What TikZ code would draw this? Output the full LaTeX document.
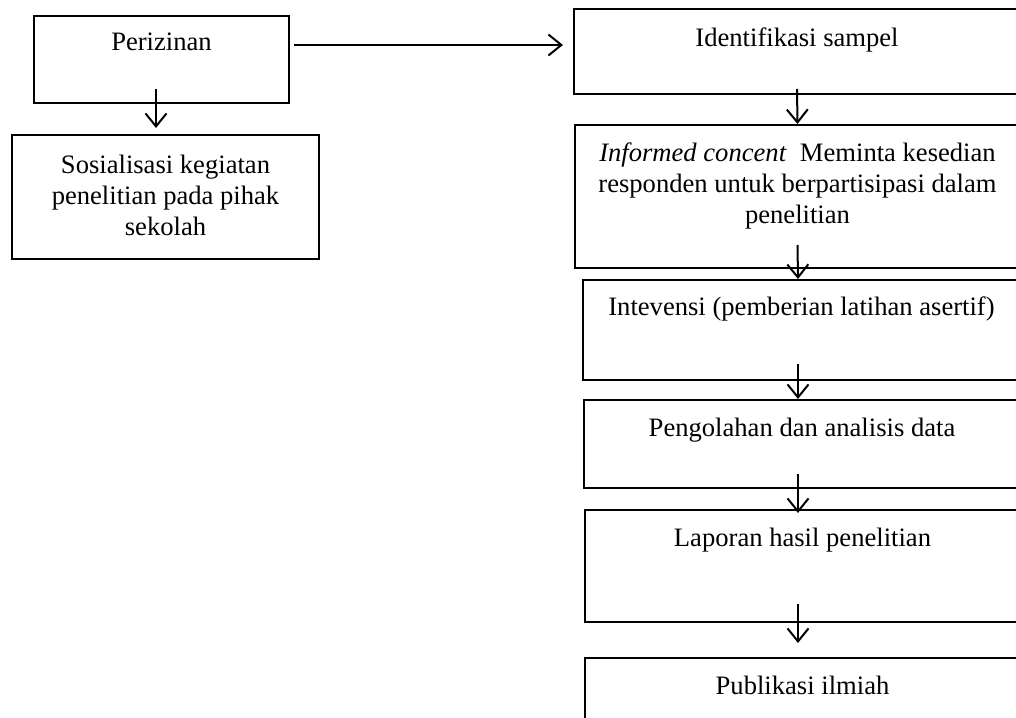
\documentclass[tikz,border=0pt]{standalone}
\usepackage{fontspec}
\setmainfont{Liberation Serif}
\usepackage{tikz}
\usetikzlibrary{positioning, arrows.meta}

\begin{document}
\begin{tikzpicture}[x=0.5pt, y=-0.5pt, line width=1pt,
    box/.style = {draw, rectangle, inner sep=0pt, anchor=north west},
    txt/.style = {inner sep=0pt, anchor=north, align=center, font=\fontsize{13.3}{15.5}\selectfont},
    arr/.style = {-{Straight Barb[length=6.5pt, width=10.5pt]}}]
    \useasboundingbox (0,0) rectangle (1016,717);
    \clip (0,0) rectangle (1016,717);

    % Nodes
    \node[box, minimum width=127.5pt, minimum height=43.5pt] (perizinan) at (33,15) {};
    \node[txt, below=8.5pt of perizinan.north] (perizinantxt) {Perizinan};

    \node[box, minimum width=153.5pt, minimum height=62pt] (sosialisasi) at (11,134) {};
    \node[txt, below=10pt of sosialisasi.north] (sosialisasitxt) {Sosialisasi kegiatan\\penelitian pada pihak\\sekolah};

    \node[box, minimum width=223pt, minimum height=42.5pt] (identifikasi) at (573,8) {};
    \node[txt, below=9.5pt of identifikasi.north] (identifikasitxt) {Identifikasi sampel};

    \node[box, minimum width=222.5pt, minimum height=71.5pt] (informed) at (574,124) {};
    \node[txt, below=9pt of informed.north] (informedtxt) {\textit{Informed concent}~ Meminta kesedian\\responden untuk berpartisipasi dalam\\penelitian};

    \node[box, minimum width=218.5pt, minimum height=50pt] (intervensi) at (582,279) {};
    \node[txt, below=8.5pt of intervensi.north] (intervensitxt) {Intevensi (pemberian latihan asertif)};

    \node[box, minimum width=218pt, minimum height=44pt] (pengolahan) at (583,399) {};
    \node[txt, below=9pt of pengolahan.north] (pengolahantxt) {Pengolahan dan analisis data};

    \node[box, minimum width=217.5pt, minimum height=56pt] (laporan) at (584,509) {};
    \node[txt, below=9pt of laporan.north] (laporantxt) {Laporan hasil penelitian};

    \node[box, minimum width=217.5pt, minimum height=40pt] (publikasi) at (584,657) {};
    \node[txt, below=9pt of publikasi.north] (publikasitxt) {Publikasi ilmiah};

    % Lines
    \draw[arr] ([xshift=-2.75pt, yshift=7.5pt]perizinan.south) -- ([xshift=-4.75pt, yshift=3pt]sosialisasi.north);
    \draw[arr] ([xshift=2pt, yshift=7.25pt]perizinan.east) -- ([xshift=-5pt, yshift=3.25pt]identifikasi.west);

    \draw[arr] ([yshift=3pt]identifikasi.south) -- (informed.north);
    \draw[arr] ([yshift=12pt]informed.south) -- ([xshift=-1.75pt]intervensi.north);
    \draw[arr] ([xshift=-1.75pt, yshift=8.5pt]intervensi.south) -- ([xshift=-2pt]pengolahan.north);
    \draw[arr] ([xshift=-2pt, yshift=7.5pt]pengolahan.south) -- ([xshift=-2.25pt, yshift=-2pt]laporan.north);
    \draw[arr] ([xshift=-2.25pt, yshift=9.5pt]laporan.south) -- ([xshift=-2.25pt, yshift=7pt]publikasi.north);
\end{tikzpicture}
\end{document}
